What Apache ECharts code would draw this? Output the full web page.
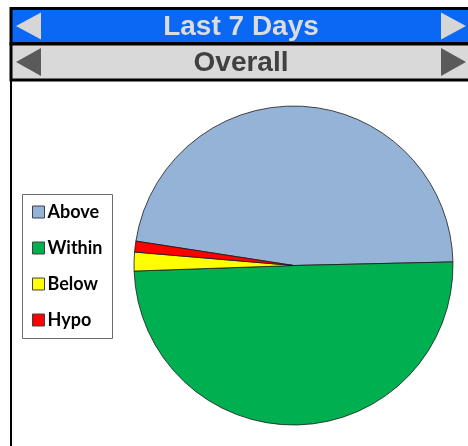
<!DOCTYPE html>
<html>
<head>
<meta charset="utf-8">
<script src="https://cdn.jsdelivr.net/npm/echarts@6/dist/echarts.min.js"></script>
<style>
  html, body { margin: 0; padding: 0; background: #fff; }
  #chart { width: 468px; height: 446px; }
</style>
</head>
<body>
<div id="chart"></div>
<script>
// data
const categories = ["Above", "Within", "Below", "Hypo"];
const values = [47.2, 49.8, 1.9, 1.1];
const periodLabel = "Last 7 Days";
const viewLabel = "Overall";

const sliceColors = ["#95b3d7", "#00b050", "#ffff00", "#ff0000"];

const myChart = echarts.init(document.getElementById("chart"));

// header bar with arrows
const headerBar = (y, h, fill, textColor, arrowColor, label) => [
  { type: "rect", shape: { x: 11, y: y, width: 470, height: h }, style: { fill: fill, stroke: "#000", lineWidth: 3 }, z: 1 },
  { type: "polygon", shape: { points: [[16, y + h / 2], [41, y + 4], [41, y + h - 4]] }, style: { fill: arrowColor }, z: 2 },
  { type: "polygon", shape: { points: [[466, y + h / 2], [441, y + 4], [441, y + h - 4]] }, style: { fill: arrowColor }, z: 2 },
  {
    type: "text", x: 241, y: y + h / 2 + 1,
    style: { text: label, fill: textColor, font: "bold 28px 'Liberation Sans', Arial, sans-serif", align: "center", verticalAlign: "middle" },
    z: 3
  }
];

myChart.setOption({
  animation: false,
  graphic: [
    // left frame line
    { type: "rect", shape: { x: 10, y: 80, width: 2, height: 370 }, style: { fill: "#000" } },
    ...headerBar(8.5, 35, "#0a68f5", "#dcdcdc", "#d6d6d6", periodLabel),
    ...headerBar(44, 36, "#d9d9d9", "#404040", "#5a5a5a", viewLabel),
    // legend box
    { type: "rect", shape: { x: 22.5, y: 194.5, width: 90, height: 144 }, style: { fill: "#fff", stroke: "#6b6b6b", lineWidth: 1 }, z: 0 }
  ],
  legend: {
    orient: "vertical",
    left: 32,
    top: 203,
    padding: 0,
    itemGap: 18,
    itemWidth: 12,
    itemHeight: 12,
    icon: "rect",
    itemStyle: { borderColor: "#404040", borderWidth: 1 },
    textStyle: {
      fontFamily: "Lato, 'Open Sans', sans-serif",
      fontWeight: "bold",
      fontSize: 18,
      color: "#000",
      padding: [0, 0, 0, -2]
    },
    data: categories
  },
  series: [
    {
      type: "pie",
      center: [293.5, 265.5],
      radius: 159.5,
      startAngle: 171.2,
      clockwise: true,
      label: { show: false },
      labelLine: { show: false },
      emphasis: { disabled: true },
      itemStyle: { borderColor: "#1a1a1a", borderWidth: 0.8 },
      data: categories.map((name, i) => ({
        name: name,
        value: values[i],
        itemStyle: { color: sliceColors[i] }
      }))
    }
  ]
});

window.addEventListener("resize", function () {
  myChart.resize();
});
</script>
</body>
</html>
